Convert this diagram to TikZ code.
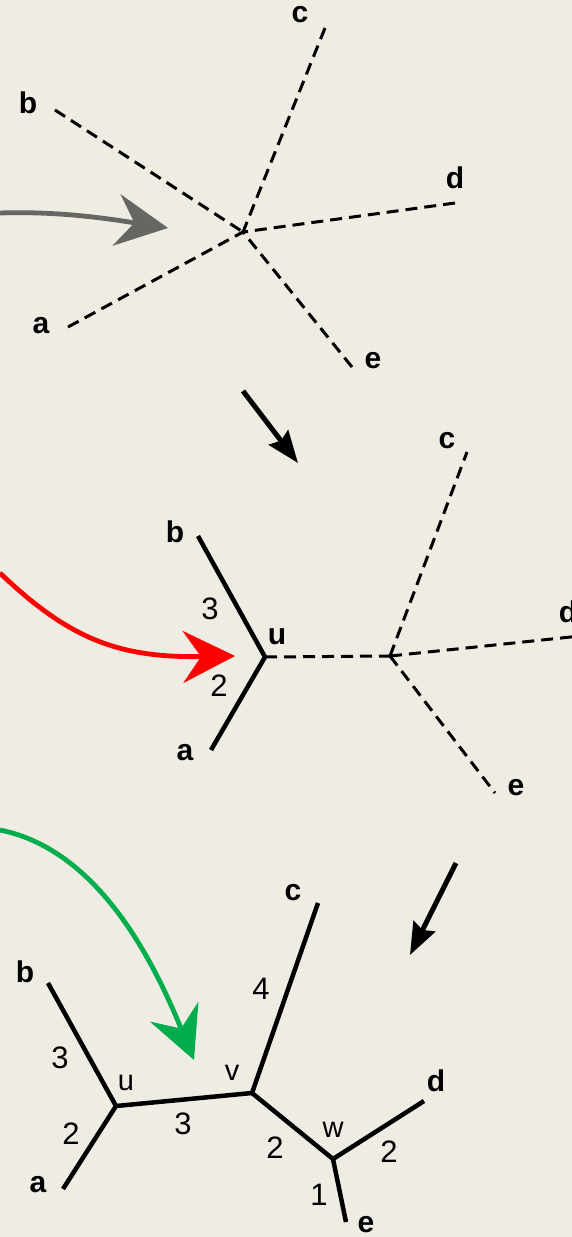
\documentclass[tikz,border=0pt]{standalone}
\usepackage{fontspec}
\setmainfont{Liberation Sans}
\usetikzlibrary{arrows.meta}
\definecolor{paper}{RGB}{239,236,227}
\definecolor{arrowgray}{RGB}{102,102,98}
\definecolor{arrowred}{RGB}{255,0,0}
\definecolor{arrowgreen}{RGB}{0,173,76}
\tikzset{
  leaf/.style={inner sep=0pt, font=\fontsize{30}{34}\selectfont\bfseries},
  inner/.style={inner sep=0pt, font=\fontsize{29}{32}\selectfont},
  len/.style={inner sep=0pt, font=\fontsize{31}{34}\selectfont},
  branch/.style={line width=4.5pt, line join=miter},
  guess/.style={line width=3pt, dash pattern=on 12pt off 7pt},
  bigarrow/.style={line width=4.8pt, -{Stealth[length=52pt,width=52pt,inset=18pt]}},
  stepar/.style={line width=5pt, -{Stealth[length=32pt,width=24pt,inset=4pt]}}
}
\begin{document}
\begin{tikzpicture}[x=1pt,y=-1pt]
\fill[paper] (0,0) rectangle (572,1237);
\useasboundingbox (0,0) rectangle (572,1237);

% ---- star tree (all branches unresolved)
\coordinate (s0) at (243,232);
\coordinate (sa) at (68,327);
\coordinate (sb) at (55,110);
\coordinate (sc) at (325,28);
\coordinate (sd) at (455,203);
\coordinate (se) at (352,367);
\foreach \t in {sa,sb,sc,sd,se} \draw[guess] (\t) -- (s0);
\node[leaf] (la1) at (41,326) {a};
\node[leaf] (lb1) at (28,103) {b};
\node[leaf] (lc1) at (300,15) {c};
\node[leaf] (ld1) at (455,178) {d};
\node[leaf] (le1) at (373,361) {e};

% ---- first join: a and b at u
\coordinate (mu) at (265,657);
\coordinate (m0) at (390,656);
\coordinate (ma) at (211,750);
\coordinate (mb) at (198,536);
\coordinate (mc) at (467,452);
\coordinate (md) at (580,636);
\coordinate (me) at (495,793);
\draw[branch] (mb) -- (mu) -- (ma);
\draw[guess] (mu) -- (m0);
\foreach \t in {mc,md,me} \draw[guess] (m0) -- (\t);
\node[leaf] (la2) at (185,753) {a};
\node[leaf] (lb2) at (175,532) {b};
\node[leaf] (lc2) at (447,441) {c};
\node[leaf] (ld2) at (568,612) {d};
\node[leaf] (le2) at (516,788) {e};
\node[leaf] (lu2) at (277,637) {u};
\node[len] (n3a) at (210,609) {3};
\node[len] (n2a) at (219,686) {2};

% ---- final tree
\coordinate (bu) at (116,1106);
\coordinate (bv) at (252,1093);
\coordinate (bw) at (333,1159);
\coordinate (ba) at (63,1189);
\coordinate (bb) at (48,983);
\coordinate (bc) at (318,903);
\coordinate (bd) at (424,1101);
\coordinate (be) at (346,1222);
\draw[branch] (bb) -- (bu) -- (bv) -- (bc);
\draw[branch] (ba) -- (bu);
\draw[branch] (bv) -- (bw) -- (bd);
\draw[branch] (bw) -- (be);
\node[leaf] (la3) at (38,1185) {a};
\node[leaf] (lb3) at (25,972) {b};
\node[leaf] (lc3) at (293,893) {c};
\node[leaf] (ld3) at (436,1081) {d};
\node[leaf] (le3) at (366,1225) {e};
\node[inner] (lu3) at (126,1083) {u};
\node[inner] (lv3) at (232,1073) {v};
\node[inner] (lw3) at (333,1130) {w};
\node[len] (n3b) at (60,1058) {3};
\node[len] (n2b) at (71,1134) {2};
\node[len] (n3c) at (183,1124) {3};
\node[len] (n4) at (261,989) {4};
\node[len] (n2c) at (275,1148) {2};
\node[len] (n2d) at (389,1152) {2};
\node[len] (n1) at (319,1195) {1};

% ---- arrows between the steps
\coordinate (k1s) at (243,391);
\coordinate (k1e) at (298,463);
\draw[stepar] (k1s) -- (k1e);
\coordinate (k2s) at (456,863);
\coordinate (k2e) at (410,955);
\draw[stepar] (k2s) -- (k2e);

% ---- incoming curved arrows
\coordinate (g0) at (0,213);
\coordinate (g1) at (168,228);
\draw[bigarrow, arrowgray] (g0) .. controls (60,211) and (110,219) .. (g1);
\coordinate (r0) at (0,573);
\coordinate (r1) at (235,656);
\draw[bigarrow, arrowred] (r0) .. controls (70,640) and (120,658) .. (r1);
\coordinate (q0) at (0,830);
\coordinate (q1) at (194,1060);
\draw[bigarrow, arrowgreen] (q0) .. controls (100,850) and (155,965) .. (q1);
\end{tikzpicture}
\end{document}
